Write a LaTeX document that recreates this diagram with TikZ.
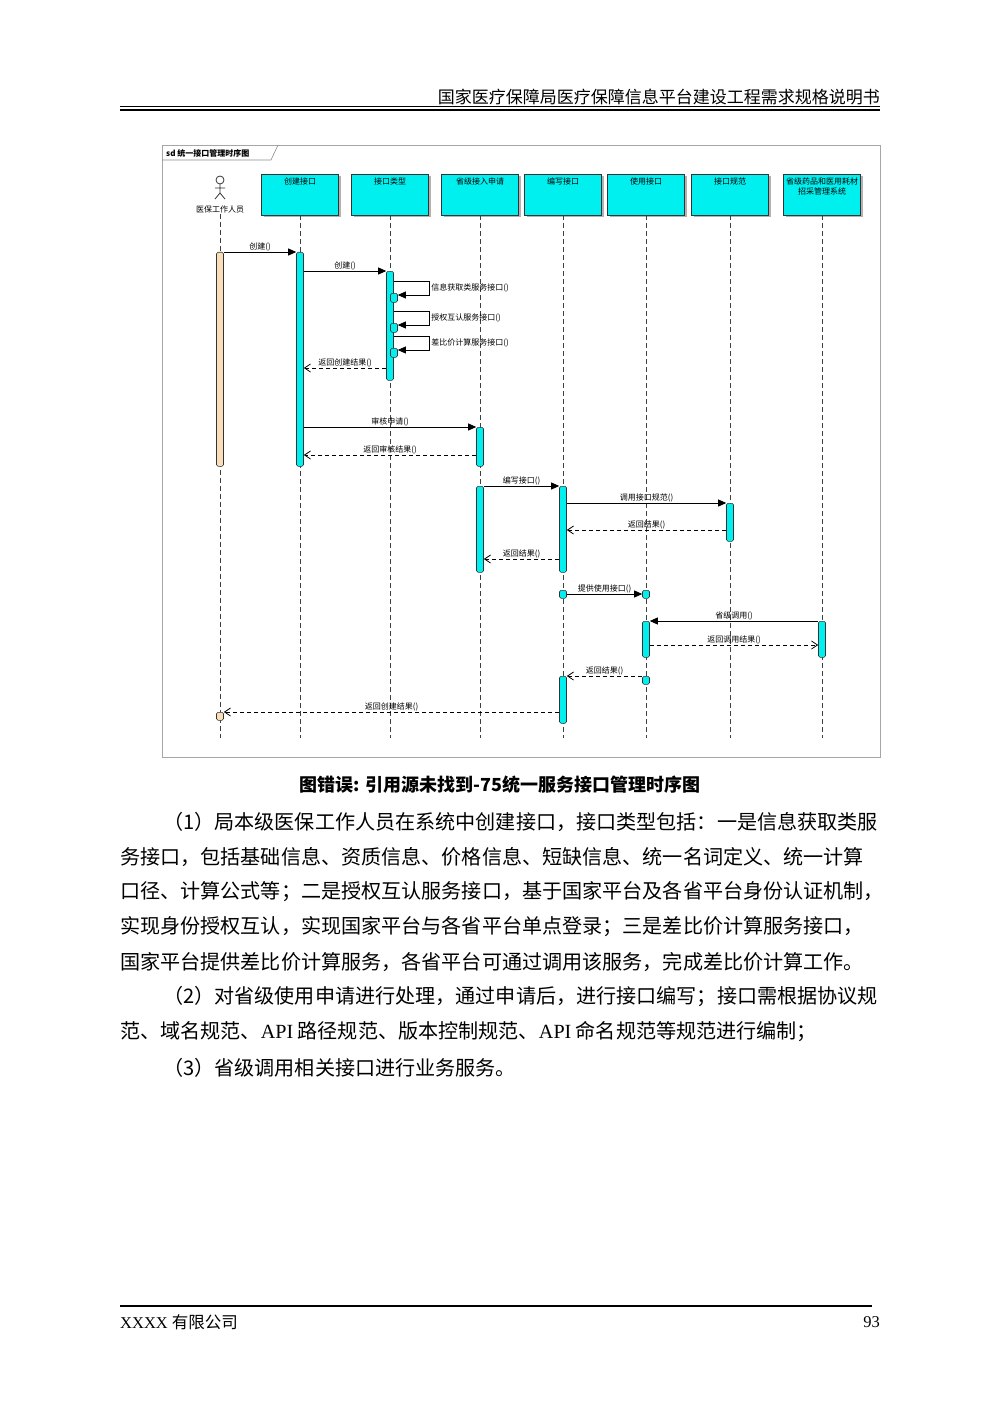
\documentclass[tikz,border=0pt]{standalone}
\usepackage{fontspec}
\setmainfont{Liberation Serif}
\newfontfamily\cjk{Noto Sans CJK SC}
\usetikzlibrary{arrows.meta,shadows}
\definecolor{beige}{RGB}{250,222,185}
\definecolor{cy}{RGB}{0,240,240}
\tikzset{
 life/.style={draw=black!75,dash pattern=on 5pt off 3pt,line width=0.8pt},
 lbox/.style={draw=black!80,fill=cy,minimum width=77pt,minimum height=41pt,anchor=north,inner sep=1pt,
   font=\cjk\fontsize{8}{10}\selectfont,align=center,text depth=28pt,drop shadow={shadow xshift=2pt,shadow yshift=-2pt,fill=black!60}},
 act/.style={draw=black!80,fill=cy,rounded corners=1.5pt,minimum width=7pt,inner sep=0pt,anchor=north,line width=0.6pt},
 bact/.style={act,fill=beige},
 msg/.style={line width=0.8pt,-{Triangle[length=8pt,width=7pt]}},
 ret/.style={line width=0.8pt,dash pattern=on 4pt off 3pt,-{Straight Barb[length=6pt,width=8pt]}},
 lab/.style={font=\cjk\fontsize{8}{10}\selectfont,inner sep=1pt},
 body/.style={font=\cjk\fontsize{20.1}{22}\selectfont,anchor=west,inner sep=0pt}
}
\begin{document}
\begin{tikzpicture}[x=1pt,y=-1pt]
\useasboundingbox (0,0) rectangle (1000,1415);
% header
\node[font=\cjk\fontsize{17}{18}\selectfont,anchor=east,inner sep=0pt] (hd) at (880,97) {国家医疗保障局医疗保障信息平台建设工程需求规格说明书};
\draw[line width=0.7pt] (120,106) -- (880,106);
\draw[line width=2.6pt] (120,110) -- (880,110);
% frame
\draw[black!35,line width=0.6pt] (162,145) rectangle (880,757);
\draw[black!45,line width=0.6pt] (162,160) -- (271,160) -- (278,145);
\node[font=\cjk\bfseries\fontsize{8}{9}\selectfont,anchor=west,inner sep=0pt] (ttl) at (166,153) {sd 统一接口管理时序图};
% boxes
\node[lbox] (L1) at (300,174) {创建接口};
\node[lbox] (L2) at (390,174) {接口类型};
\node[lbox] (L3) at (480,174) {省级接入申请};
\node[lbox] (L4) at (563,174) {编写接口};
\node[lbox] (L5) at (646,174) {使用接口};
\node[lbox] (L6) at (730,174) {接口规范};
\node[lbox,text depth=18pt] (L7) at (822,174) {省级药品和医用耗材\\招采管理系统};
% actor
\draw[line width=0.8pt,black!80] (220,180) circle (4);
\draw[line width=0.8pt,black!80] (220,184) -- (220,193) (215,188) -- (225,188) (215,199) -- (220,193) -- (225,199);
\node[lab] (A) at (220,209) {医保工作人员};
% lifelines
\draw[life] (A.south) -- (220,738);
\foreach \n in {L1,L2,L3,L4,L5,L6,L7}{\draw[life] (\n.south) -- (\n.south |- 0,738);}
% activations
\node[bact,minimum height=214pt] (aA) at (220,252) {};
\node[bact,minimum height=8pt] (aA2) at (220,712) {};
\node[act,minimum height=214pt] (a1) at (300,252) {};
\node[act,minimum height=109pt] (a2) at (390,271) {};
\node[act,minimum height=9pt] (s1) at (394,293) {};
\node[act,minimum height=9pt] (s2) at (394,323) {};
\node[act,minimum height=9pt] (s3) at (394,348) {};
\node[act,minimum height=39pt] (a3) at (480,427) {};
\node[act,minimum height=86pt] (a3b) at (480,486) {};
\node[act,minimum height=86pt] (a4) at (563,486) {};
\node[act,minimum height=38pt] (a6) at (730,503) {};
\node[act,minimum height=8pt] (p4) at (563,590) {};
\node[act,minimum height=8pt] (p5) at (646,590) {};
\node[act,minimum height=36pt] (a5) at (646,621) {};
\node[act,minimum height=36pt] (a7) at (822,621) {};
\node[act,minimum height=8pt] (q5) at (646,676) {};
\node[act,minimum height=47pt] (a4b) at (563,676) {};
% messages
\draw[msg] (aA.east |- 0,252) -- node[lab,above] {创建()} (a1.west |- 0,252);
\draw[msg] (a1.east |- 0,271) -- node[lab,above] {创建()} (a2.west |- 0,271);
\foreach \s/\y/\t in {s1/281/信息获取类服务接口(),s2/311/授权互认服务接口(),s3/336/差比价计算服务接口()}{
 \draw[msg] (a2.east |- 0,\y) -- (429,\y) -- node[lab,anchor=west,xshift=1pt] {\t} (429,\y+14) -- (\s.east |- 0,\y+14);}
\draw[ret] (a2.west |- 0,368) -- node[lab,above] {返回创建结果()} (a1.east |- 0,368);
\draw[msg] (a1.east |- 0,427) -- node[lab,above] {审核申请()} (a3.west |- 0,427);
\draw[ret] (a3.west |- 0,455) -- node[lab,above] {返回审核结果()} (a1.east |- 0,455);
\draw[msg] (a3b.east |- 0,486) -- node[lab,above] {编写接口()} (a4.west |- 0,486);
\draw[msg] (a4.east |- 0,503) -- node[lab,above] {调用接口规范()} (a6.west |- 0,503);
\draw[ret] (a6.west |- 0,530) -- node[lab,above] {返回结果()} (a4.east |- 0,530);
\draw[ret] (a4.west |- 0,559) -- node[lab,above] {返回结果()} (a3b.east |- 0,559);
\draw[msg] (p4.east |- 0,594) -- node[lab,above] {提供使用接口()} (p5.west |- 0,594);
\draw[msg] (a7.west |- 0,621) -- node[lab,above] {省级调用()} (a5.east |- 0,621);
\draw[ret] (a5.east |- 0,645) -- node[lab,above] {返回调用结果()} (a7.west |- 0,645);
\draw[ret] (q5.west |- 0,676) -- node[lab,above] {返回结果()} (a4b.east |- 0,676);
\draw[ret] (a4b.west |- 0,712) -- node[lab,above] {返回创建结果()} (aA2.east |- 0,712);
% caption
\node[font=\cjk\bfseries\fontsize{18}{20}\selectfont,inner sep=0pt] (cap) at (500,785) {图错误: 引用源未找到-75统一服务接口管理时序图};
% body
\node[body] (b1) at (163,822) {（1）局本级医保工作人员在系统中创建接口，接口类型包括：一是信息获取类服};
\node[body] (b2) at (120,857) {务接口，包括基础信息、资质信息、价格信息、短缺信息、统一名词定义、统一计算};
\node[body] (b3) at (120,892) {口径、计算公式等；二是授权互认服务接口，基于国家平台及各省平台身份认证机制，};
\node[body] (b4) at (120,927) {实现身份授权互认，实现国家平台与各省平台单点登录；三是差比价计算服务接口，};
\node[body] (b5) at (120,962) {国家平台提供差比价计算服务，各省平台可通过调用该服务，完成差比价计算工作。};
\node[body] (b6) at (163,997) {（2）对省级使用申请进行处理，通过申请后，进行接口编写；接口需根据协议规};
\node[body] (b7) at (120,1032) {范、域名规范、{\rmfamily API} 路径规范、版本控制规范、{\rmfamily API} 命名规范等规范进行编制；};
\node[body] (b8) at (163,1068) {（3）省级调用相关接口进行业务服务。};
% footer
\draw[line width=2pt] (120,1306) -- (872,1306);
\node[font=\fontsize{16.5}{18}\selectfont,anchor=west,inner sep=0pt] (f1) at (120,1322) {XXXX {\cjk 有限公司}};
\node[font=\fontsize{16.5}{18}\selectfont,anchor=east,inner sep=0pt] (f2) at (880,1322) {93};
\end{tikzpicture}
\end{document}
